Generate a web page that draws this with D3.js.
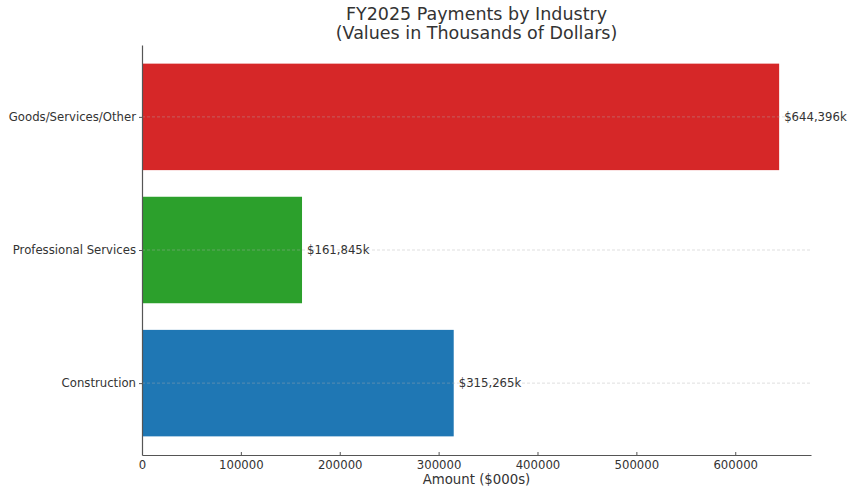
<!DOCTYPE html>
<html lang="en">
<head>
<meta charset="utf-8">
<title>FY2025 Payments by Industry</title>
<script src="https://d3js.org/d3.v7.min.js"></script>
<style>
  body { margin: 0; background: #fff; }
  text { font-family: "DejaVu Sans", sans-serif; fill: #333; }
</style>
</head>
<body>
<script>
// data (thousands of dollars), bottom to top as drawn
var categories = ["Construction", "Professional Services", "Goods/Services/Other"];
var amounts = [315265, 161845, 644396];
var colors = ["#1f77b4", "#2ca02c", "#d62728"];
var xTicks = [0, 100000, 200000, 300000, 400000, 500000, 600000];

var width = 848, height = 490;
var margin = {top: 45, right: 37, bottom: 35, left: 142};
var small = "11.7px";

var svg = d3.select("body").append("svg")
    .attr("width", width)
    .attr("height", height);

var x = d3.scaleLinear()
    .domain([0, d3.max(amounts) * 1.05])
    .range([margin.left, width - margin.right]);

// matplotlib-ish category positions: index 0 at bottom, margins 5%
var y = d3.scaleLinear()
    .domain([-0.54, categories.length - 1 + 0.54])
    .range([height - margin.bottom, margin.top]);

var barH = y(0) - y(0.8);

svg.selectAll("rect.bar")
    .data(amounts)
    .enter().append("rect")
    .attr("class", "bar")
    .attr("x", x(0))
    .attr("y", function(d, i) { return y(i) - barH / 2; })
    .attr("width", function(d) { return x(d) - x(0); })
    .attr("height", barH)
    .attr("fill", function(d, i) { return colors[i]; });

// faint dashed grid lines at the categories
svg.selectAll("line.grid")
    .data(categories)
    .enter().append("line")
    .attr("class", "grid")
    .attr("x1", x.range()[0])
    .attr("x2", x.range()[1])
    .attr("y1", function(d, i) { return y(i); })
    .attr("y2", function(d, i) { return y(i); })
    .attr("stroke", "#b0b0b0")
    .attr("stroke-opacity", 0.5)
    .attr("stroke-width", 0.8)
    .attr("stroke-dasharray", "3,2");

// value labels
svg.selectAll("text.val")
    .data(amounts)
    .enter().append("text")
    .attr("class", "val")
    .attr("x", function(d) { return x(d) + 5; })
    .attr("y", function(d, i) { return y(i); })
    .attr("dy", "0.35em")
    .style("font-size", small)
    .text(function(d) { return "$" + d3.format(",")(d) + "k"; });

// x axis
var xAxis = svg.append("g")
    .attr("transform", "translate(0," + (height - margin.bottom) + ")")
    .call(d3.axisBottom(x).tickValues(xTicks).tickFormat(d3.format("d")).tickSizeInner(-3).tickSizeOuter(0).tickPadding(6));
xAxis.select(".domain").attr("stroke", "#555").attr("stroke-width", 1.2);
xAxis.selectAll(".tick line").attr("stroke", "#555");
xAxis.selectAll(".tick text").style("font-size", small).attr("fill", "#333");

// y axis
var yAxis = svg.append("g")
    .attr("transform", "translate(" + margin.left + ",0)")
    .call(d3.axisLeft(y).tickValues(d3.range(categories.length))
        .tickFormat(function(i) { return categories[i]; })
        .tickSizeInner(3).tickSizeOuter(0).tickPadding(3));
yAxis.select(".domain").attr("stroke", "#555").attr("stroke-width", 1.2);
yAxis.selectAll(".tick line").attr("stroke", "#555");
yAxis.selectAll(".tick text").style("font-size", small).attr("fill", "#333");

// title
var cx = (x.range()[0] + x.range()[1]) / 2;
svg.append("text")
    .attr("x", cx).attr("y", 20)
    .attr("text-anchor", "middle")
    .style("font-size", "17.5px")
    .text("FY2025 Payments by Industry");
svg.append("text")
    .attr("x", cx).attr("y", 39)
    .attr("text-anchor", "middle")
    .style("font-size", "17.5px")
    .text("(Values in Thousands of Dollars)");

// x label
svg.append("text")
    .attr("x", cx).attr("y", 484)
    .attr("text-anchor", "middle")
    .style("font-size", "13.3px")
    .text("Amount ($000s)");
</script>
</body>
</html>
